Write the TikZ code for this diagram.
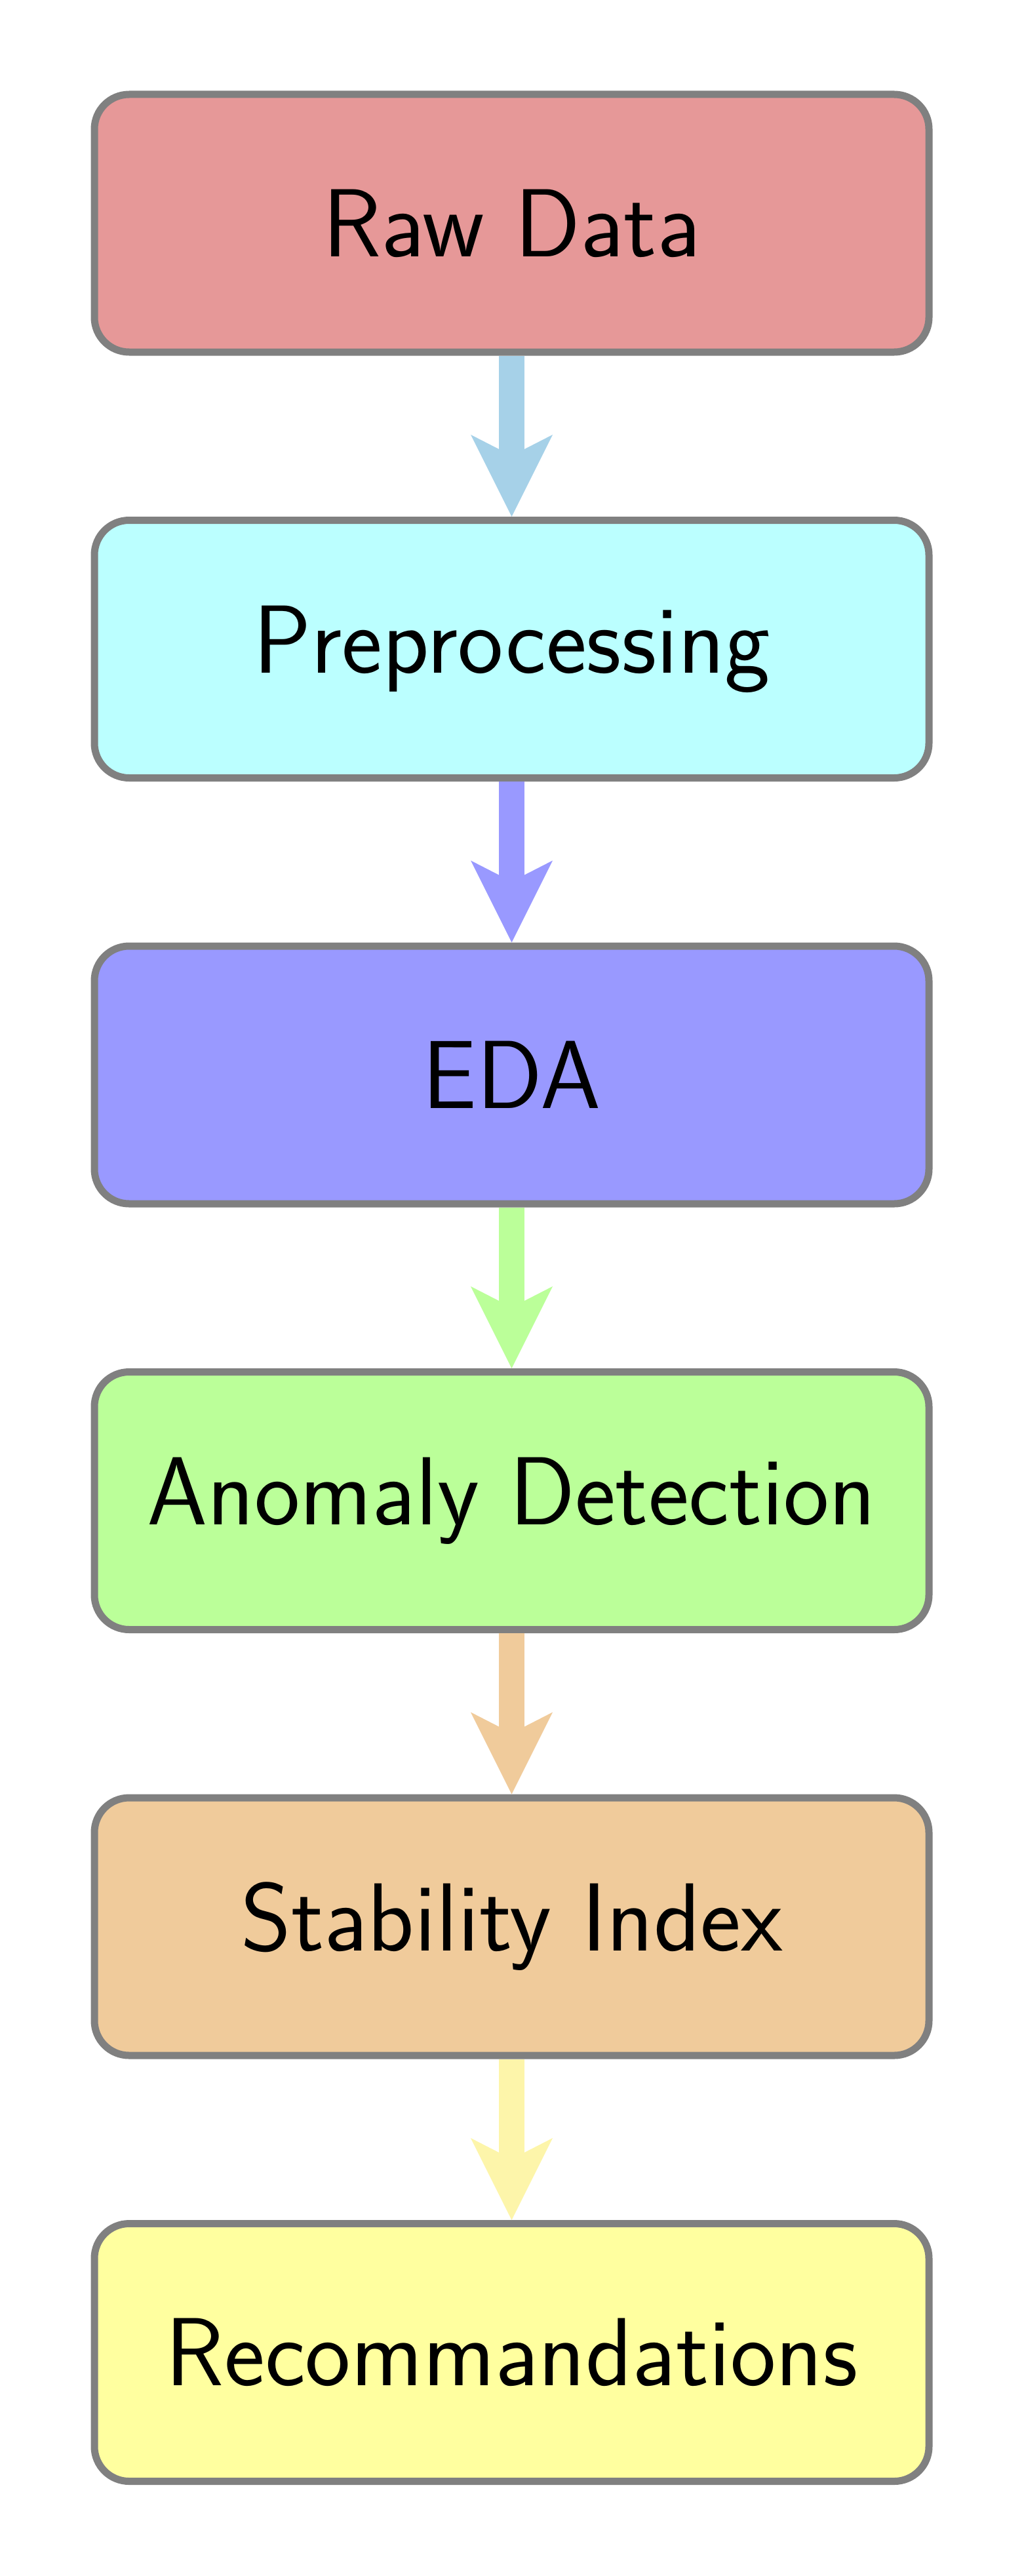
\documentclass[tikz,border=0pt]{standalone}
\usetikzlibrary{arrows.meta}
\definecolor{cRaw}{RGB}{230,152,152}
\definecolor{cPre}{RGB}{187,255,255}
\definecolor{cEda}{RGB}{153,153,255}
\definecolor{cAno}{RGB}{187,255,153}
\definecolor{cSta}{RGB}{240,203,155}
\definecolor{cRec}{RGB}{255,255,159}
\definecolor{aOne}{RGB}{166,209,232}
\definecolor{aFive}{RGB}{253,245,170}
\tikzset{
  stagebox/.style={draw=gray, line width=0.11cm, rounded corners=0.53cm,
    minimum width=12.73cm, minimum height=3.93cm, align=center,
    font=\sffamily\fontsize{42}{50}\selectfont, text=black},
  flowarrow/.style={line width=0.39cm,
    -{Stealth[length=1.25cm, width=1.25cm, inset=0.32cm, line width=0pt]}}
}
\begin{document}
\begin{tikzpicture}
\useasboundingbox (0,0) rectangle (15.61,-39.29);
\node[stagebox, fill=cRaw] (raw) at (7.805,-3.405) {Raw Data};
\node[stagebox, fill=cPre] (pre) at (7.805,-9.90) {Preprocessing};
\node[stagebox, fill=cEda] (eda) at (7.805,-16.395) {EDA};
\node[stagebox, fill=cAno] (ano) at (7.805,-22.89) {Anomaly Detection};
\node[stagebox, fill=cSta] (sta) at (7.805,-29.385) {Stability Index};
\node[stagebox, fill=cRec] (rec) at (7.805,-35.88) {Recommandations};
\draw[flowarrow, aOne] (raw.south) -- (pre.north);
\draw[flowarrow, cEda] (pre.south) -- (eda.north);
\draw[flowarrow, cAno] (eda.south) -- (ano.north);
\draw[flowarrow, cSta] (ano.south) -- (sta.north);
\draw[flowarrow, aFive] (sta.south) -- (rec.north);
\end{tikzpicture}
\end{document}
